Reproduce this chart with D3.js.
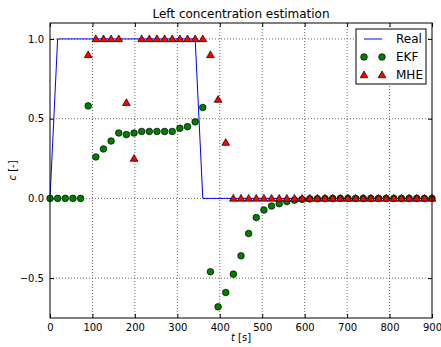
<!DOCTYPE html>
<html>
<head>
<meta charset="utf-8">
<script src="https://cdn.jsdelivr.net/npm/d3@7"></script>
<style>
  body { margin: 0; background: #fff; }
  svg { font-family: "DejaVu Sans", sans-serif; }
</style>
</head>
<body>
<div id="chart"></div>
<script>
// sample times (every 18 s)
var times = d3.range(0, 901, 18);

// real concentration
var realVals = [0, 1, 1, 1, 1, 1, 1, 1, 1, 1, 1, 1, 1, 1, 1, 1, 1, 1, 1, 1,
  0, 0, 0, 0, 0, 0, 0, 0, 0, 0, 0, 0, 0, 0, 0, 0, 0, 0, 0, 0,
  0, 0, 0, 0, 0, 0, 0, 0, 0, 0, 0];

// EKF estimate
var ekfVals = [0, 0, 0, 0, 0, 0.58, 0.26, 0.31, 0.36, 0.41, 0.40, 0.41, 0.42, 0.42, 0.42, 0.42, 0.42, 0.44, 0.45, 0.48,
  0.57, -0.46, -0.68, -0.59, -0.475, -0.36, -0.22, -0.12, -0.073, -0.048, -0.033, -0.02, -0.011, -0.006, -0.003, -0.002, -0.001, 0, 0, 0,
  0, 0, 0, 0, 0, 0, 0, 0, 0, 0, 0];

// MHE estimate (starts at t = 90)
var mheTimes = times.slice(5);
var mheVals = [0.9, 1, 1, 1, 1, 0.6, 0.25, 1, 1, 1, 1, 1, 1, 1, 1, 1,
  0.9, 0.62, 0.35, 0, 0, 0, 0, 0, 0, 0, 0, 0, 0, 0, 0, 0, 0, 0, 0,
  0, 0, 0, 0, 0, 0, 0, 0, 0, 0, 0];

var xTicks = [0, 100, 200, 300, 400, 500, 600, 700, 800, 900];
var yTicks = [-0.5, 0, 0.5, 1.0];

var W = 441, H = 347;
var margin = {top: 23, right: 9, bottom: 29, left: 50};
var width = W - margin.left - margin.right,
    height = H - margin.top - margin.bottom;

var svg = d3.select("#chart").append("svg")
  .attr("width", W).attr("height", H);

var g = svg.append("g")
  .attr("transform", "translate(" + margin.left + "," + margin.top + ")");

var x = d3.scaleLinear().domain([0, 900]).range([0, width]);
var y = d3.scaleLinear().domain([-0.75, 1.1]).range([height, 0]);

// grid
g.append("g").selectAll("line").data(xTicks.slice(1, -1)).enter().append("line")
  .attr("x1", d => x(d)).attr("x2", d => x(d))
  .attr("y1", 0).attr("y2", height)
  .attr("stroke", "#000").attr("stroke-width", 0.6).attr("stroke-dasharray", "1,2");
g.append("g").selectAll("line").data(yTicks).enter().append("line")
  .attr("x1", 0).attr("x2", width)
  .attr("y1", d => y(d)).attr("y2", d => y(d))
  .attr("stroke", "#000").attr("stroke-width", 0.6).attr("stroke-dasharray", "1,2");

// axes (ticks pointing inward like matplotlib)
var fmtY = d => d === 0 ? "0.0" : d3.format(".1f")(d).replace("-", "\u2212");
var xAxis = g.append("g").attr("transform", "translate(0," + height + ")")
  .call(d3.axisBottom(x).tickValues(xTicks).tickSize(-4).tickPadding(6).tickFormat(d3.format("d")));
var xAxisTop = g.append("g")
  .call(d3.axisTop(x).tickValues(xTicks).tickSize(-4).tickFormat(""));
var yAxis = g.append("g")
  .call(d3.axisLeft(y).tickValues(yTicks).tickSize(-4).tickPadding(6).tickFormat(fmtY));
var yAxisR = g.append("g").attr("transform", "translate(" + width + ",0)")
  .call(d3.axisRight(y).tickValues(yTicks).tickSize(-4).tickFormat(""));
[xAxis, xAxisTop, yAxis, yAxisR].forEach(function(a) {
  a.select(".domain").remove();
  a.selectAll("text").attr("font-size", 10).attr("fill", "#000")
    .attr("font-family", "DejaVu Sans, sans-serif");
});

// real line
var line = d3.line().x((d, i) => x(times[i])).y(d => y(d));
g.append("path").datum(realVals)
  .attr("d", line).attr("fill", "none").attr("stroke", "#0000ff").attr("stroke-width", 1);

// EKF circles
g.append("g").selectAll("circle").data(ekfVals).enter().append("circle")
  .attr("cx", (d, i) => x(times[i])).attr("cy", d => y(d)).attr("r", 3.3)
  .attr("fill", "#008000").attr("stroke", "#000").attr("stroke-width", 0.7);

// MHE triangles
var tri = d3.symbol().type(d3.symbolTriangle).size(26);
g.append("g").selectAll("path").data(mheVals).enter().append("path")
  .attr("d", tri)
  .attr("transform", (d, i) => "translate(" + x(mheTimes[i]) + "," + (y(d) + 0.5) + ")")
  .attr("fill", "#ff0000").attr("stroke", "#000").attr("stroke-width", 0.7);

// frame
g.append("rect").attr("width", width).attr("height", height)
  .attr("fill", "none").attr("stroke", "#000").attr("stroke-width", 1);

// title and labels
svg.append("text").attr("x", margin.left + width / 2).attr("y", 18)
  .attr("text-anchor", "middle").attr("font-size", 12).text("Left concentration estimation");
var xl = svg.append("text").attr("x", margin.left + width / 2).attr("y", 341)
  .attr("text-anchor", "middle").attr("font-size", 10);
xl.append("tspan").attr("font-style", "italic").text("t");
xl.append("tspan").text(" [s]");
var yl = svg.append("text").attr("transform", "translate(16," + (margin.top + height / 2) + ") rotate(-90)")
  .attr("text-anchor", "middle").attr("font-size", 10);
yl.append("tspan").attr("font-style", "italic").text("c");
yl.append("tspan").text(" [-]");

// legend
var lg = svg.append("g").attr("transform", "translate(356,29)");
lg.append("rect").attr("width", 70).attr("height", 55)
  .attr("fill", "#fff").attr("stroke", "#000").attr("stroke-width", 1);
var entries = ["Real", "EKF", "MHE"];
entries.forEach(function(name, i) {
  var yy = 10 + i * 18;
  if (name === "Real") {
    lg.append("line").attr("x1", 8).attr("x2", 26).attr("y1", yy).attr("y2", yy)
      .attr("stroke", "#0000ff").attr("stroke-width", 1);
  } else if (name === "EKF") {
    [8, 26].forEach(function(px) {
      lg.append("circle").attr("cx", px).attr("cy", yy).attr("r", 3.3)
        .attr("fill", "#008000").attr("stroke", "#000").attr("stroke-width", 0.7);
    });
  } else {
    [8, 26].forEach(function(px) {
      lg.append("path").attr("d", tri).attr("transform", "translate(" + px + "," + (yy + 0.5) + ")")
        .attr("fill", "#ff0000").attr("stroke", "#000").attr("stroke-width", 0.7);
    });
  }
  lg.append("text").attr("x", 40).attr("y", yy + 4).attr("font-size", 12).text(name);
});
</script>
</body>
</html>
